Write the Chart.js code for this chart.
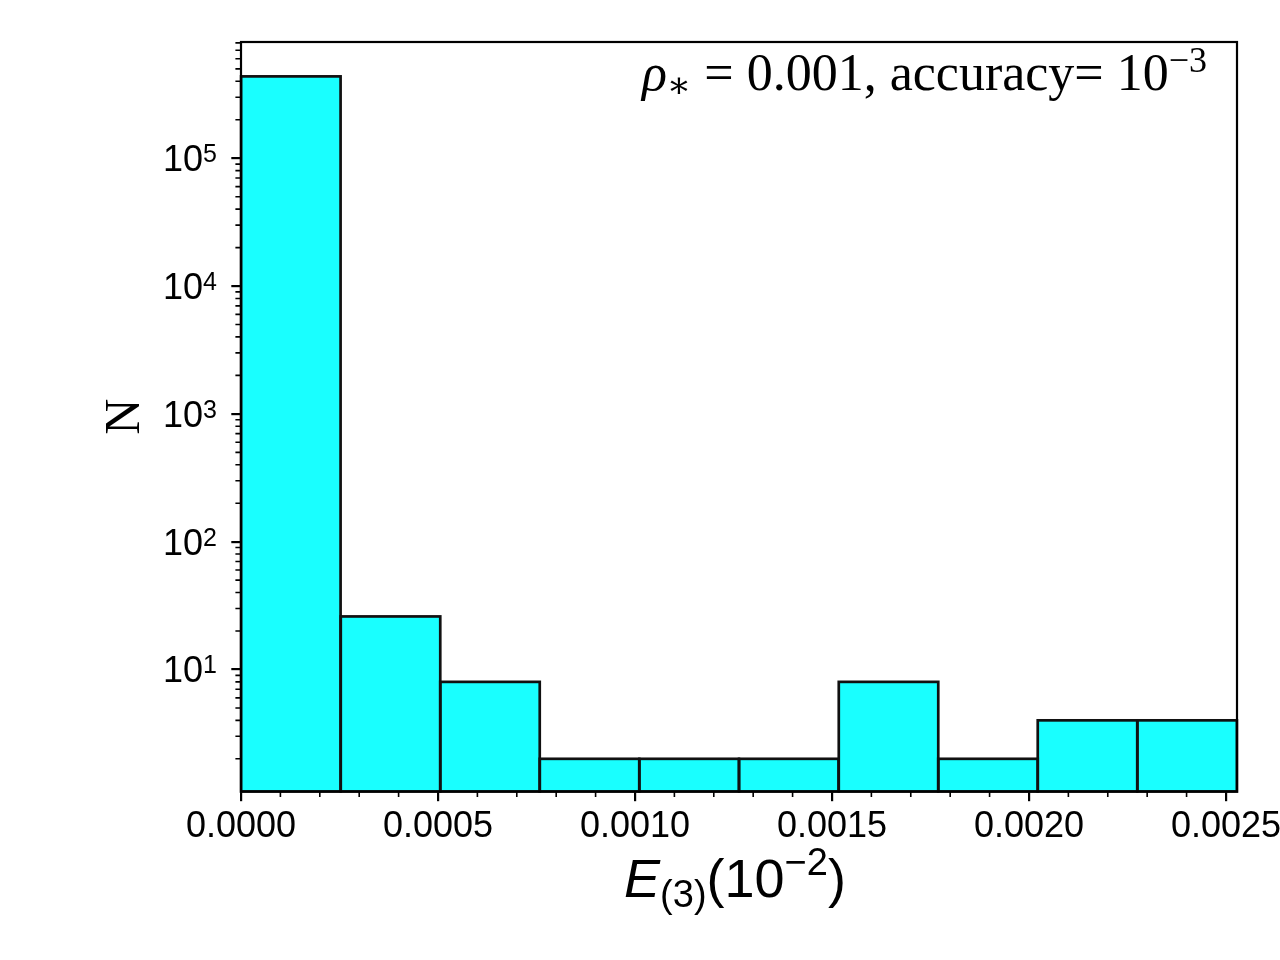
<!DOCTYPE html>
<html>
<head>
<meta charset="utf-8">
<script src="https://cdn.jsdelivr.net/npm/chart.js@4.4.0/dist/chart.umd.min.js"></script>
<style>
html,body{margin:0;padding:0;background:#ffffff;}
canvas{display:block;}
</style>
</head>
<body>
<canvas id="c" width="1280" height="960" style="width:1280px;height:960px"></canvas>
<script>
// ---- data ----
const binEdges = [0, 0.000253, 0.000506, 0.000758, 0.001011, 0.001264, 0.001517, 0.00177, 0.002022, 0.002275, 0.002528];
const counts = [437000, 26, 8, 2, 2, 2, 8, 2, 4, 4];
const xTickValues = [0, 0.0005, 0.001, 0.0015, 0.002, 0.0025];
const xTickLabels = ['0.0000', '0.0005', '0.0010', '0.0015', '0.0020', '0.0025'];
const yTickValues = [10, 100, 1000, 10000, 100000];
const yTickBase = '10';
const yTickExponents = ['1', '2', '3', '4', '5'];
const yMin = 1.11;
const yMax = 812000;
const yTitle = 'N';

const barData = counts.map((c, i) => ({ x: (binEdges[i] + binEdges[i + 1]) / 2, y: c }));

const EDGE = '#111111';
const FILL = '#19ffff';
const LW = 2.2;
const BAR_LW = 2.7;

function drawPieces(ctx, pieces, x, baseline, align) {
  let total = 0;
  pieces.forEach(p => { ctx.font = p.font; p.w = ctx.measureText(p.t).width; total += p.w; });
  let cx = align === 'right' ? x - total : (align === 'center' ? x - total / 2 : x);
  ctx.textAlign = 'left';
  ctx.textBaseline = 'alphabetic';
  pieces.forEach(p => { ctx.font = p.font; ctx.fillText(p.t, cx, baseline + (p.dy || 0)); cx += p.w; });
}

const extras = {
  id: 'extras',
  afterDatasetsDraw(chart) {
    const ctx = chart.ctx;
    ctx.save();
    ctx.strokeStyle = EDGE;
    ctx.lineWidth = BAR_LW;
    ctx.lineJoin = 'miter';
    chart.getDatasetMeta(0).data.forEach(el => {
      const p = el.getProps(['x', 'y', 'base', 'width'], true);
      ctx.strokeRect(p.x - p.width / 2, p.y, p.width, p.base - p.y);
    });
    ctx.restore();
  },
  afterDraw(chart) {
    const ctx = chart.ctx;
    const a = chart.chartArea;
    const xs = chart.scales.x, ys = chart.scales.y;
    ctx.save();
    // frame
    ctx.strokeStyle = '#000';
    ctx.lineWidth = LW;
    ctx.lineJoin = 'miter';
    ctx.strokeRect(a.left, a.top, a.right - a.left, a.bottom - a.top);
    // minor ticks
    ctx.lineWidth = 1.6;
    ctx.beginPath();
    for (let k = 1; k <= 25; k++) {
      if (k % 5 === 0) continue;
      const px = xs.getPixelForValue(k * 0.0001);
      if (px > a.right + 0.5) continue;
      ctx.moveTo(px, a.bottom);
      ctx.lineTo(px, a.bottom + 5.6);
    }
    for (let n = 0; n <= 5; n++) {
      for (let k = 2; k <= 9; k++) {
        const v = k * Math.pow(10, n);
        if (v <= yMin || v >= yMax) continue;
        const py = ys.getPixelForValue(v);
        ctx.moveTo(a.left, py);
        ctx.lineTo(a.left - 5.6, py);
      }
    }
    ctx.stroke();
    ctx.fillStyle = '#000';
    // y tick labels (base with raised exponent)
    yTickValues.forEach((v, i) => {
      const py = ys.getPixelForValue(v);
      drawPieces(ctx, [
        { t: yTickBase, font: '36px "Liberation Sans"' },
        { t: yTickExponents[i], font: '25px "Liberation Sans"', dy: -9 }
      ], 217, py + 13, 'right');
    });
    // annotation
    drawPieces(ctx, [
      { t: 'ρ', font: 'italic 52px "Liberation Serif"' },
      { t: '∗', font: '36px "DejaVu Serif"', dy: 7 },
      { t: ' = 0.001, accuracy= 10', font: '52px "Liberation Serif"' },
      { t: '−3', font: '36px "Liberation Serif"', dy: -18 }
    ], 1207, 90, 'right');
    // x axis title
    drawPieces(ctx, [
      { t: 'E', font: 'italic 54px "Liberation Sans"' },
      { t: '(3)', font: '38px "Liberation Sans"', dy: 10 },
      { t: '(10', font: '54px "Liberation Sans"' },
      { t: '−2', font: '38px "Liberation Sans"', dy: -22 },
      { t: ')', font: '54px "Liberation Sans"' }
    ], 735, 897, 'center');
    ctx.restore();
  }
};

new Chart(document.getElementById('c'), {
  type: 'bar',
  data: {
    datasets: [{
      data: barData,
      backgroundColor: FILL,
      borderWidth: 0,
      barPercentage: 1.0,
      categoryPercentage: 1.0,
      inflateAmount: 0
    }]
  },
  plugins: [extras],
  options: {
    responsive: false,
    animation: false,
    devicePixelRatio: 1,
    layout: { padding: { left: 0, top: 42, right: 43, bottom: 0 } },
    plugins: { legend: { display: false }, tooltip: { enabled: false } },
    scales: {
      x: {
        type: 'linear',
        min: binEdges[0],
        max: binEdges[binEdges.length - 1],
        offset: false,
        afterBuildTicks: s => { s.ticks = xTickValues.map(v => ({ value: v })); },
        afterFit: s => { s.height = 168.5; s.paddingLeft = 0; s.paddingRight = 0; },
        ticks: {
          autoSkip: false, maxRotation: 0, minRotation: 0,
          color: '#000', padding: 4,
          font: { family: '"Liberation Sans"', size: 36 },
          callback: (v, i) => xTickLabels[i]
        },
        grid: { display: true, drawOnChartArea: false, drawTicks: true, tickLength: 9.7, lineWidth: LW, tickWidth: LW, tickColor: '#000', offset: false },
        border: { display: false }
      },
      y: {
        type: 'logarithmic',
        min: yMin,
        max: yMax,
        afterBuildTicks: s => { s.ticks = yTickValues.map(v => ({ value: v })); },
        afterFit: s => { s.width = 241; },
        ticks: { display: false },
        grid: { display: true, drawOnChartArea: false, drawTicks: true, tickLength: 9.7, lineWidth: LW, tickWidth: LW, tickColor: '#000' },
        border: { display: false },
        title: {
          display: true, text: yTitle, color: '#000',
          font: { family: '"Liberation Serif"', size: 50 },
          padding: { top: 96, bottom: 0 }
        }
      }
    }
  }
});
</script>
</body>
</html>
